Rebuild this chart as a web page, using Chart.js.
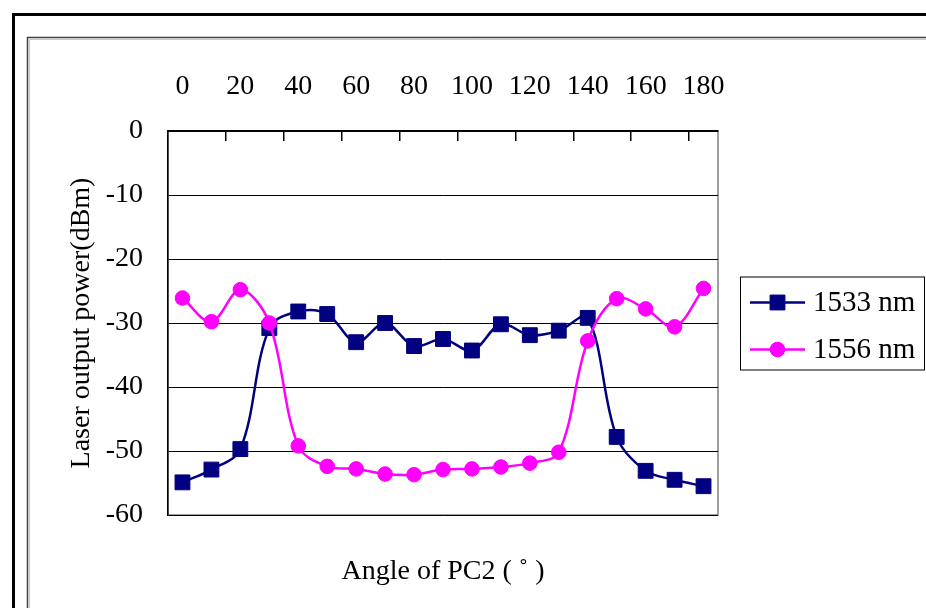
<!DOCTYPE html>
<html>
<head>
<meta charset="utf-8">
<script src="https://cdn.jsdelivr.net/npm/chart.js@4/dist/chart.umd.min.js"></script>
<style>
  html, body { margin: 0; padding: 0; background: #fff; }
  #wrap { width: 926px; height: 608px; position: relative; }
</style>
</head>
<body>
<div id="wrap"><canvas id="graph"></canvas></div>
<script>
// angle of PC2 (deg)
const angles = [0, 10, 20, 30, 40, 50, 60, 70, 80, 90, 100, 110, 120, 130, 140, 150, 160, 170, 180];
// laser output power (dBm)
const p1533 = [-54.9, -52.9, -49.7, -30.8, -28.2, -28.6, -33.0, -30.0, -33.6, -32.5, -34.3, -30.2, -31.9, -31.2, -29.2, -47.8, -53.1, -54.5, -55.5];
const p1556 = [-26.1, -29.8, -24.8, -30.0, -49.2, -52.4, -52.8, -53.6, -53.7, -52.9, -52.8, -52.5, -51.9, -50.2, -32.8, -26.2, -27.8, -30.6, -24.6];
const seriesNames = ['1533 nm', '1556 nm'];

const FONT = '"Liberation Serif", "Times New Roman", serif';

// frames, plot border, x title, legend
const decor = {
  id: 'decor',
  beforeDraw(chart) {
    const ctx = chart.ctx, a = chart.chartArea;
    ctx.save();
    ctx.fillStyle = '#fff';
    ctx.fillRect(0, 0, chart.width, chart.height);
    // outer black frame
    ctx.strokeStyle = '#000';
    ctx.lineWidth = 3;
    ctx.beginPath();
    ctx.moveTo(13.5, 608); ctx.lineTo(13.5, 14.5); ctx.lineTo(926, 14.5);
    ctx.stroke();
    // inner frame
    ctx.strokeStyle = '#404040';
    ctx.lineWidth = 1.5;
    ctx.beginPath();
    ctx.moveTo(27.5, 608); ctx.lineTo(27.5, 37.5); ctx.lineTo(926, 37.5);
    ctx.stroke();
    ctx.strokeStyle = '#c8c8c8';
    ctx.lineWidth = 1;
    ctx.beginPath();
    ctx.moveTo(29.5, 608); ctx.lineTo(29.5, 39.5); ctx.lineTo(926, 39.5);
    ctx.stroke();
    // plot area border (right / bottom grey)
    ctx.strokeStyle = '#808080';
    ctx.lineWidth = 1.5;
    ctx.strokeRect(a.left, a.top, a.right - a.left, a.bottom - a.top);
    ctx.restore();
  },
  afterDraw(chart) {
    const ctx = chart.ctx, a = chart.chartArea;
    ctx.save();
    // x axis title below plot
    ctx.fillStyle = '#000';
    ctx.font = '28px ' + FONT;
    ctx.textAlign = 'center';
    ctx.textBaseline = 'middle';
    ctx.fillText('Angle of PC2 ( \u02da )', (a.left + a.right) / 2, 572);

    // legend box
    const lx = a.right + 22, lw = 184, lh = 93;
    const ly = (a.top + a.bottom) / 2 - lh / 2;
    ctx.strokeStyle = '#000';
    ctx.lineWidth = 1;
    ctx.strokeRect(lx + 0.5, ly + 0.5, lw, lh);
    const order = [1, 0]; // dataset index for 1533, 1556
    order.forEach((di, row) => {
      const ds = chart.data.datasets[di];
      const cy = ly + 26 + row * 47;
      ctx.strokeStyle = ds.borderColor;
      ctx.lineWidth = 2.5;
      ctx.beginPath();
      ctx.moveTo(lx + 10, cy); ctx.lineTo(lx + 65, cy);
      ctx.stroke();
      ctx.fillStyle = ds.pointBackgroundColor;
      ctx.strokeStyle = ds.pointBorderColor;
      ctx.lineWidth = 1;
      Chart.helpers.drawPoint(ctx, {
        pointStyle: ds.pointStyle, radius: ds.pointRadius, rotation: 0, borderWidth: 1
      }, lx + 37.5, cy);
      ctx.fillStyle = '#000';
      ctx.font = '29px ' + FONT;
      ctx.textAlign = 'left';
      ctx.textBaseline = 'middle';
      ctx.fillText(ds.label, lx + 73, cy + 1);
    });
    ctx.restore();
  }
};

new Chart(document.getElementById('graph'), {
  type: 'line',
  data: {
    labels: angles,
    datasets: [
      {
        label: seriesNames[1],
        data: p1556,
        borderColor: '#ff00ff',
        backgroundColor: '#ff00ff',
        pointBackgroundColor: '#ff00ff',
        pointBorderColor: '#ff00ff',
        pointStyle: 'circle',
        pointRadius: 7.3,
        pointBorderWidth: 1,
        borderWidth: 2.5,
        tension: 0.35,
        order: 0
      },
      {
        label: seriesNames[0],
        data: p1533,
        borderColor: '#000080',
        backgroundColor: '#000080',
        pointBackgroundColor: '#000080',
        pointBorderColor: '#000080',
        pointStyle: 'rect',
        pointRadius: 10.5,
        pointBorderWidth: 1,
        borderWidth: 2.5,
        tension: 0.35,
        order: 1
      }
    ]
  },
  options: {
    responsive: true,
    maintainAspectRatio: false,
    animation: false,
    layout: { padding: { left: 50, top: 0, right: 208, bottom: 93 } },
    plugins: {
      legend: { display: false },
      tooltip: { enabled: false }
    },
    scales: {
      x: {
        type: 'category',
        position: 'top',
        offset: true,
        afterFit: s => { s.height = 131; },
        border: { display: true, color: '#000', width: 1.5 },
        grid: {
          offset: true,
          drawOnChartArea: false,
          drawTicks: true,
          tickLength: -10,
          color: c => (c.index > 0 && c.index % 2 === 0) ? '#000' : 'rgba(0,0,0,0)',
          lineWidth: 1.5
        },
        ticks: {
          autoSkip: false,
          maxRotation: 0,
          padding: 38,
          color: '#000',
          font: { family: FONT, size: 28 },
          callback: function (v, i) { return i % 2 === 0 ? this.getLabelForValue(v) : ''; }
        }
      },
      y: {
        min: -60,
        max: 0,
        afterFit: s => { s.width = 118; },
        border: { display: true, color: '#000', width: 1.5 },
        grid: { color: '#000', lineWidth: 1, drawTicks: false },
        ticks: {
          stepSize: 10,
          padding: 25,
          color: '#000',
          font: { family: FONT, size: 28 }
        },
        title: {
          display: true,
          text: 'Laser output power(dBm)',
          color: '#000',
          font: { family: FONT, size: 28 },
          padding: { top: 15, bottom: 0 }
        }
      }
    }
  },
  plugins: [decor]
});
</script>
</body>
</html>
